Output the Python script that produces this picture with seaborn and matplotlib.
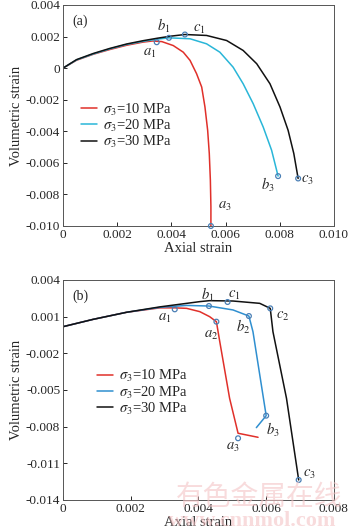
import numpy as np
import pandas as pd
import matplotlib
matplotlib.use("Agg")
import matplotlib.pyplot as plt
import seaborn as sns
from matplotlib.ticker import FuncFormatter

# ---- data ----
labels = [r"$\sigma_3$=10 MPa", r"$\sigma_3$=20 MPa", r"$\sigma_3$=30 MPa"]

# panel (a)
a_x10 = [0, 0.0005, 0.00112, 0.00173, 0.00235, 0.00296, 0.0033, 0.00365, 0.00407, 0.00444, 0.00469, 0.00493,
         0.00512, 0.00524, 0.00534, 0.0054, 0.00544, 0.00546, 0.00546]
a_y10 = [0, 0.0005, 0.00088, 0.00118, 0.00145, 0.00165, 0.00172, 0.00168, 0.00143, 0.00101, 0.00049, -0.00035,
         -0.0012, -0.00246, -0.00394, -0.00541, -0.0071, -0.00878, -0.0100]
a_x20 = [0, 0.0005, 0.00112, 0.00173, 0.00235, 0.00296, 0.0035, 0.00391, 0.00469, 0.0053, 0.00579, 0.00628,
         0.00665, 0.00702, 0.00739, 0.0077, 0.00794]
a_y20 = [0, 0.00052, 0.0009, 0.00122, 0.0015, 0.0017, 0.00184, 0.00192, 0.00186, 0.00154, 0.00101, 0.00006,
         -0.00099, -0.00225, -0.00373, -0.0052, -0.00684]
a_x30 = [0, 0.0005, 0.00112, 0.00173, 0.00235, 0.00296, 0.0035, 0.004, 0.0045, 0.0053, 0.00604, 0.00665,
         0.00715, 0.00764, 0.00801, 0.00831, 0.00852, 0.00868]
a_y30 = [0, 0.00054, 0.00093, 0.00125, 0.00153, 0.00174, 0.0019, 0.00203, 0.00213, 0.00207, 0.00175, 0.00112,
         0.00028, -0.00099, -0.00246, -0.00394, -0.00541, -0.00699]
a_mk_x = [0.00346, 0.00391, 0.0045, 0.00546, 0.00794, 0.00868]
a_mk_y = [0.00164, 0.00192, 0.00213, -0.0100, -0.00684, -0.00699]
a_tags = ["$a_1$", "$b_1$", "$c_1$", "$a_3$", "$b_3$", "$c_3$"]
a_tag_x = [0.0032, 0.0037, 0.00504, 0.00596, 0.00756, 0.00903]
a_tag_y = [0.0009, 0.0027, 0.00242, -0.00878, -0.0074, -0.0071]

# panel (b)
b_x10 = [0, 0.00089, 0.00188, 0.00286, 0.0033, 0.00365, 0.00404, 0.00433, 0.00453, 0.00463, 0.00492, 0.00517, 0.00576]
b_y10 = [0.00018, 0.00078, 0.00136, 0.00172, 0.00172, 0.00168, 0.00141, 0.001, 0.00059, -0.00105, -0.00568, -0.00854, -0.00887]
b_x20 = [0, 0.00089, 0.00188, 0.00286, 0.00365, 0.00431, 0.00502, 0.00549, 0.00561, 0.006, 0.00571]
b_y20 = [0.00018, 0.00078, 0.00136, 0.00176, 0.00192, 0.00187, 0.00155, 0.00105, -0.00023, -0.0071, -0.00808]
b_x30 = [0, 0.00089, 0.00188, 0.00286, 0.00404, 0.00433, 0.00502, 0.00581, 0.00612, 0.0062, 0.0066, 0.00696]
b_y30 = [0.00018, 0.00078, 0.00136, 0.0018, 0.00223, 0.00231, 0.00228, 0.00209, 0.00168, -0.00023, -0.00568, -0.01236]
b_mk_x = [0.0033, 0.00453, 0.00517, 0.00431, 0.00549, 0.006, 0.00486, 0.00612, 0.00696]
b_mk_y = [0.0016, 0.00059, -0.00895, 0.00187, 0.00105, -0.0071, 0.0022, 0.00168, -0.01236]
b_tags = ["$a_1$", "$a_2$", "$a_3$", "$b_1$", "$b_2$", "$b_3$", "$c_1$", "$c_2$", "$c_3$"]
b_tag_x = [0.00301, 0.00438, 0.00502, 0.00428, 0.00532, 0.0062, 0.00507, 0.0065, 0.00728]
b_tag_y = [0.00086, -0.0005, -0.00972, 0.00277, 0.00018, -0.00827, 0.00277, 0.001, -0.0119]


def long_df(xs, ys):
    frames = []
    for lab, x, y in zip(labels, xs, ys):
        frames.append(pd.DataFrame({"x": x, "y": y, "case": lab}))
    return pd.concat(frames, ignore_index=True)


df_a = long_df([a_x10, a_x20, a_x30], [a_y10, a_y20, a_y30])
df_b = long_df([b_x10, b_x20, b_x30], [b_y10, b_y20, b_y30])

sns.set_style("ticks")
plt.rcParams["font.family"] = ["Liberation Serif", "DejaVu Serif"]
plt.rcParams["mathtext.fontset"] = "stix"
plt.rcParams["xtick.direction"] = "in"
plt.rcParams["ytick.direction"] = "in"

fig = plt.figure(figsize=(3.5, 5.31), dpi=100)
ax1 = fig.add_axes([0.18, 0.5744, 0.774, 0.4162])
ax2 = fig.add_axes([0.18, 0.0584, 0.774, 0.4143])


def fmt(v, pos):
    if abs(v) < 1e-12:
        return "0"
    return "%.3f" % v


def draw(ax, df, pal, mk_x, mk_y, tags, tx, ty, legend_anchor, panel):
    sns.lineplot(ax=ax, data=df, x="x", y="y", hue="case", estimator=None,
                 sort=False, palette=pal, lw=1.1)
    sns.scatterplot(ax=ax, x=mk_x, y=mk_y, marker="o", s=12, facecolor="none",
                    edgecolor="#4a7fb5", linewidth=0.9, zorder=5, clip_on=False)
    for t, x, y in zip(tags, tx, ty):
        ax.text(x, y, t, fontsize=10.5, ha="center", va="center")
    ax.text(0.035, 0.955, panel, transform=ax.transAxes, fontsize=10, va="top")
    ax.set_xlabel("Axial strain", fontsize=10.5, labelpad=1)
    ax.set_ylabel("Volumetric strain", fontsize=10.5, labelpad=2)
    ax.xaxis.set_major_formatter(FuncFormatter(fmt))
    ax.yaxis.set_major_formatter(FuncFormatter(fmt))
    ax.tick_params(labelsize=9.5, length=3, width=0.7, pad=2)
    for s in ax.spines.values():
        s.set_linewidth(0.7)
        s.set_color("#555555")
    h, l = ax.get_legend_handles_labels()
    ax.legend(h[:3], l[:3], loc="upper left", bbox_to_anchor=legend_anchor, frameon=False,
              fontsize=10.5, handlelength=1.1, handletextpad=0.4, labelspacing=0.0,
              borderaxespad=0)


pal_a = {labels[0]: "#e0302a", labels[1]: "#29b6d8", labels[2]: "#111111"}
pal_b = {labels[0]: "#e0302a", labels[1]: "#2f8fd0", labels[2]: "#111111"}

draw(ax1, df_a, pal_a, a_mk_x, a_mk_y, a_tags, a_tag_x, a_tag_y, (0.045, 0.59), "(a)")
ax1.set_xlim(0, 0.010)
ax1.set_ylim(-0.010, 0.004)
ax1.set_xticks([0, 0.002, 0.004, 0.006, 0.008, 0.010])
ax1.set_yticks([0.004, 0.002, 0, -0.002, -0.004, -0.006, -0.008, -0.010])

draw(ax2, df_b, pal_b, b_mk_x, b_mk_y, b_tags, b_tag_x, b_tag_y, (0.105, 0.625), "(b)")
ax2.set_xlim(0, 0.008)
ax2.set_ylim(-0.014, 0.004)
ax2.set_xticks([0, 0.002, 0.004, 0.006, 0.008])
ax2.set_yticks([0.004, 0.001, -0.002, -0.005, -0.008, -0.011, -0.014])

# watermark
fig.text(0.74, 0.064, "有色金属在线", fontsize=20, color="#f4c4c6", alpha=0.6,
         ha="center", va="center", family=["Noto Sans CJK SC", "DejaVu Sans"])
fig.text(0.72, 0.0, "www.cnnmol.com", fontsize=16, color="#f4c4c6", alpha=0.6,
         ha="center", va="bottom", fontweight="bold")

fig.savefig("out.png", dpi=100)
